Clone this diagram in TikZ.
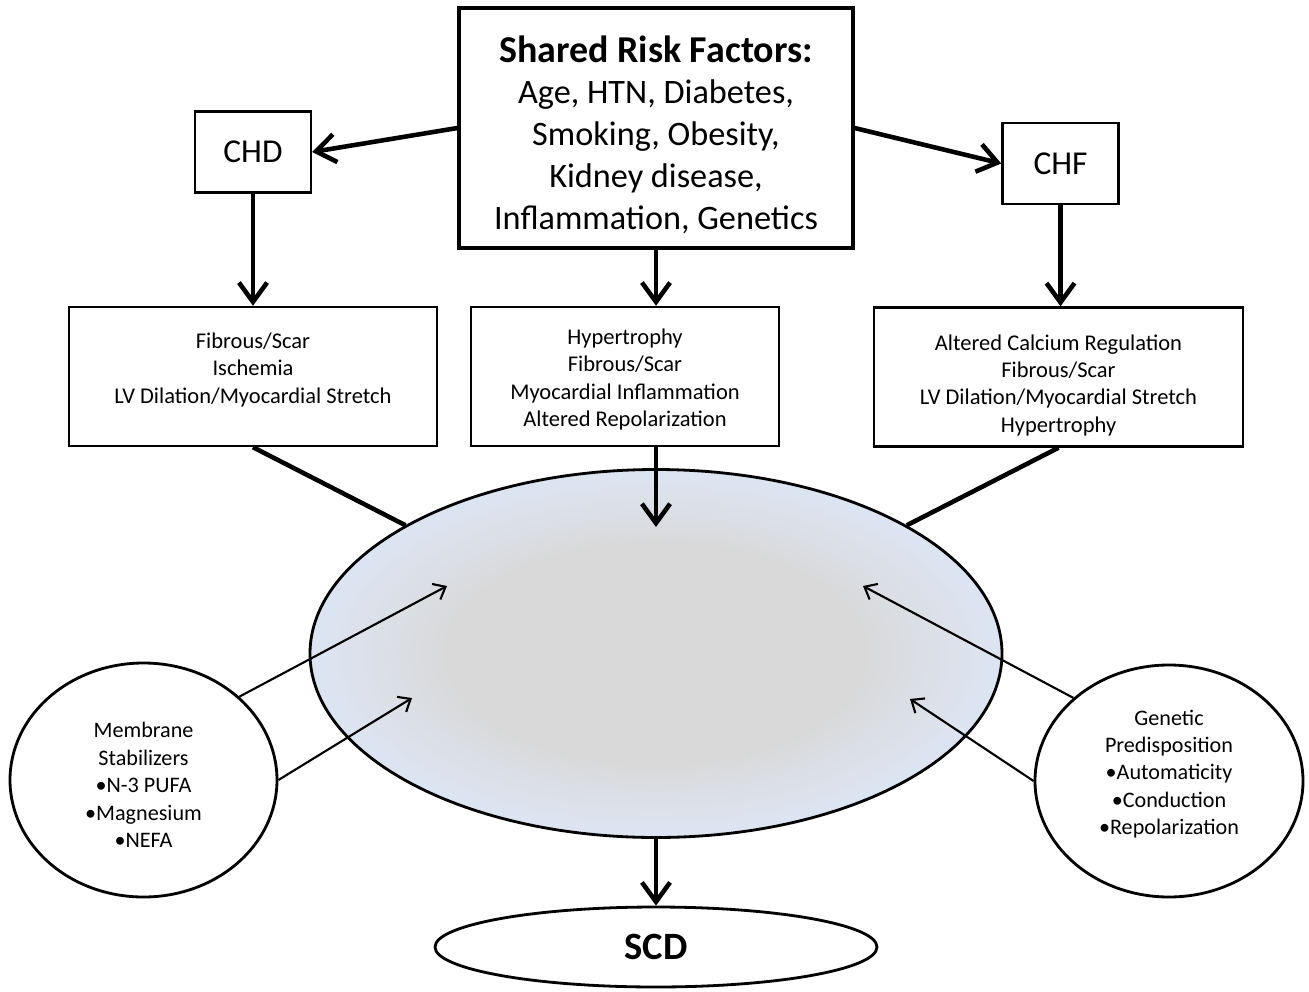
\documentclass[tikz,border=0pt]{standalone}
\usepackage{fontspec}
\setmainfont{Carlito}
\usetikzlibrary{arrows.meta,shapes.geometric}

\definecolor{hubgray}{RGB}{217,217,217}
\definecolor{hubblue}{RGB}{221,228,241}
\pgfdeclareradialshading{hubshade}{\pgfpointorigin}{color(0bp)=(hubgray); color(15bp)=(hubgray); color(24bp)=(hubblue); color(50bp)=(hubblue)}

\tikzset{
  bigarrow/.style={line width=1.3pt, -{Straight Barb[length=5.5pt,width=8pt]}},
  bigline/.style={line width=1.3pt},
  thinarrow/.style={line width=0.6pt, -{Straight Barb[length=3pt,width=5pt]}},
  riskbox/.style={draw, line width=0.9pt, align=center, inner sep=0pt,
    minimum width=39.4mm, minimum height=24mm, font=\fontsize{9.75}{11.9}\selectfont},
  dxbox/.style={draw, line width=0.7pt, inner sep=0pt,
    minimum width=11.6mm, minimum height=8.1mm, font=\fontsize{9.5}{11}\selectfont},
  mechbox/.style={draw, line width=0.7pt, align=center, inner sep=0pt,
    minimum height=13.9mm, font=\fontsize{6.4}{7.8}\selectfont},
  sideoval/.style={draw, ellipse, line width=0.8pt, align=center, inner sep=0pt,
    font=\fontsize{6.3}{7.8}\selectfont},
}

\begin{document}
\begin{tikzpicture}[x=0.1mm,y=-0.1mm]
\useasboundingbox (0,0) rectangle (1309,992);

% risk factors and diseases
\node[riskbox] (risk) at (656,128) {\rule{0pt}{11.3pt}{\bfseries\fontsize{10.8}{12}\selectfont Shared Risk Factors:}\\
  Age, HTN, Diabetes,\\ Smoking, Obesity,\\ Kidney disease,\\ Inflammation, Genetics};
\node[dxbox] (chd) at (253,152) {CHD};
\node[dxbox] (chf) at (1060.5,163.5) {CHF};

% substrate boxes
\node[mechbox, minimum width=36.8mm] (lbox) at (253,376.5)
  {Fibrous/Scar\\ Ischemia\\ LV Dilation/Myocardial Stretch\rule[-4.9pt]{0pt}{0pt}};
\node[mechbox, minimum width=30.8mm] (mbox) at (625,376.5)
  {\rule{0pt}{6.2pt}Hypertrophy\\ Fibrous/Scar\\ Myocardial Inflammation\\ Altered Repolarization};
\node[mechbox, minimum width=36.9mm] (rbox) at (1058.5,377)
  {\rule{0pt}{9.1pt}Altered Calcium Regulation\\ Fibrous/Scar\\ LV Dilation/Myocardial Stretch\\ Hypertrophy};

% central oval
\node[draw, ellipse, line width=0.8pt, shading=hubshade, inner sep=0pt,
  minimum width=69.2mm, minimum height=36.8mm] (hub) at (656,653.5) {};
\coordinate (hubtop) at (656,527);
\coordinate (tipa) at (447,586);
\coordinate (tipb) at (412,698);
\coordinate (tipc) at (863,586);
\coordinate (tipd) at (910,699);

% modifiers
\node[sideoval, minimum width=26.7mm, minimum height=23.4mm] (memb) at (143.5,780)
  {\rule{0pt}{7.2pt}Membrane\\ Stabilizers\\ •N-3 PUFA\\ •Magnesium\\ •NEFA};
\node[sideoval, minimum width=26.8mm, minimum height=23.2mm] (gene) at (1169,781)
  {Genetic\\ Predisposition\\ •Automaticity\\ •Conduction\\ •Repolarization\rule[-5pt]{0pt}{0pt}};

\node[draw, ellipse, line width=0.8pt, inner sep=0pt, minimum width=44.2mm,
  minimum height=8mm, font=\bfseries\fontsize{11}{13}\selectfont] (scd) at (656,947) {SCD};

% arrows
\draw[bigarrow] (risk.west) -- (chd.east);
\draw[bigarrow] (risk.east) -- (chf.west);
\draw[bigarrow] (chd.south) -- (lbox.north);
\draw[bigarrow] (risk.south) -- (risk.south |- mbox.north);
\draw[bigarrow] (chf.south) -- (chf.south |- rbox.north);
\draw[bigarrow] (mbox.south -| risk.south) -- (hubtop);
\draw[bigline] (lbox.south) -- (hub);
\draw[bigline] (rbox.south) -- (hub);
\draw[bigarrow] (hub) -- (scd);

\draw[thinarrow] (memb.41) -- (tipa);
\draw[thinarrow] (memb.east) -- (tipb);
\draw[thinarrow] (gene.139) -- (tipc);
\draw[thinarrow] (gene.west) -- (tipd);
\end{tikzpicture}
\end{document}
